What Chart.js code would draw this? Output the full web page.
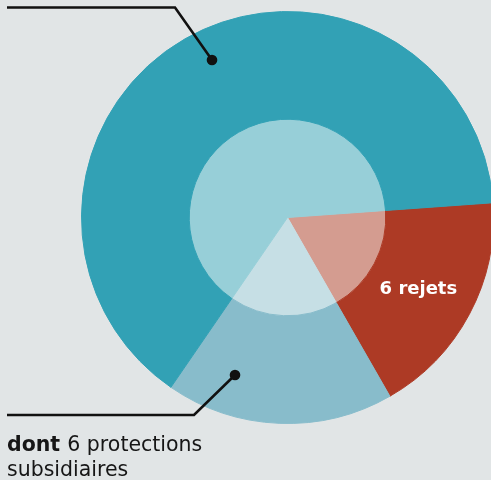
<!DOCTYPE html>
<html>
<head>
<meta charset="utf-8">
<script src="https://cdn.jsdelivr.net/npm/chart.js@4/dist/chart.umd.min.js"></script>
<style>
  html, body { margin: 0; padding: 0; background: #e1e5e6; }
  #wrap { width: 491px; height: 480px; overflow: hidden; position: relative; }
  canvas { display: block; }
</style>
</head>
<body>
<div id="wrap"><canvas id="pie" width="575" height="480"></canvas></div>
<script>
// slices, clockwise from the red one
var categories = ['rejets', 'protections subsidiaires', 'autres'];
var values = [6, 6, 21.6];
var colors = ['#ad3a25', '#88bccb', '#32a1b5'];
var innerColors = ['#d49c90', '#c6dfe5', '#97cfd8'];

var labelFont = '"DejaVu Sans", sans-serif';

// leader lines and text labels
var annotations = {
    id: 'annotations',
    afterDatasetsDraw: function(chart) {
        var ctx = chart.ctx;
        ctx.save();

        // value label inside the red slice
        var arc = chart.getDatasetMeta(0).data[0];
        var mid = (arc.startAngle + arc.endAngle) / 2;
        var r = arc.outerRadius * 0.72;
        ctx.fillStyle = '#ffffff';
        ctx.font = 'bold 18px ' + labelFont;
        ctx.textAlign = 'center';
        ctx.textBaseline = 'alphabetic';
        ctx.fillText(values[0] + ' rejets', arc.x + Math.cos(mid) * r, arc.y + Math.sin(mid) * r + 7);

        // leader lines
        ctx.strokeStyle = '#111111';
        ctx.fillStyle = '#111111';
        ctx.lineWidth = 2.6;
        ctx.lineJoin = 'miter';

        ctx.beginPath();
        ctx.moveTo(7, 7.5);
        ctx.lineTo(175, 7.5);
        ctx.lineTo(212, 60);
        ctx.stroke();
        ctx.beginPath();
        ctx.arc(212, 60, 5.3, 0, Math.PI * 2);
        ctx.fill();

        ctx.beginPath();
        ctx.moveTo(7, 415);
        ctx.lineTo(194, 415);
        ctx.lineTo(235, 375);
        ctx.stroke();
        ctx.beginPath();
        ctx.arc(235, 375, 5.3, 0, Math.PI * 2);
        ctx.fill();

        // caption under the bottom leader
        ctx.textAlign = 'left';
        ctx.fillStyle = '#161616';
        ctx.font = 'bold 20.5px ' + labelFont;
        ctx.fillText('dont', 7, 451);
        var w = ctx.measureText('dont ').width;
        ctx.font = '20.5px ' + labelFont;
        ctx.fillText(values[1] + ' protections', 7 + w, 451);
        ctx.fillText('subsidiaires', 7, 476);

        ctx.restore();
    }
};

new Chart(document.getElementById('pie'), {
    type: 'pie',
    data: {
        labels: categories,
        datasets: [{
            data: values,
            backgroundColor: colors,
            borderColor: colors,
            borderWidth: 1,
            weight: 108
        }, {
            data: values,
            backgroundColor: innerColors,
            borderColor: innerColors,
            borderWidth: 1,
            weight: 98.5
        }]
    },
    options: {
        responsive: false,
        animation: false,
        rotation: 85.9,
        layout: { padding: { top: 11, bottom: 56, left: 0, right: 0 } },
        plugins: {
            legend: { display: false },
            tooltip: { enabled: false }
        }
    },
    plugins: [annotations]
});
</script>
</body>
</html>
